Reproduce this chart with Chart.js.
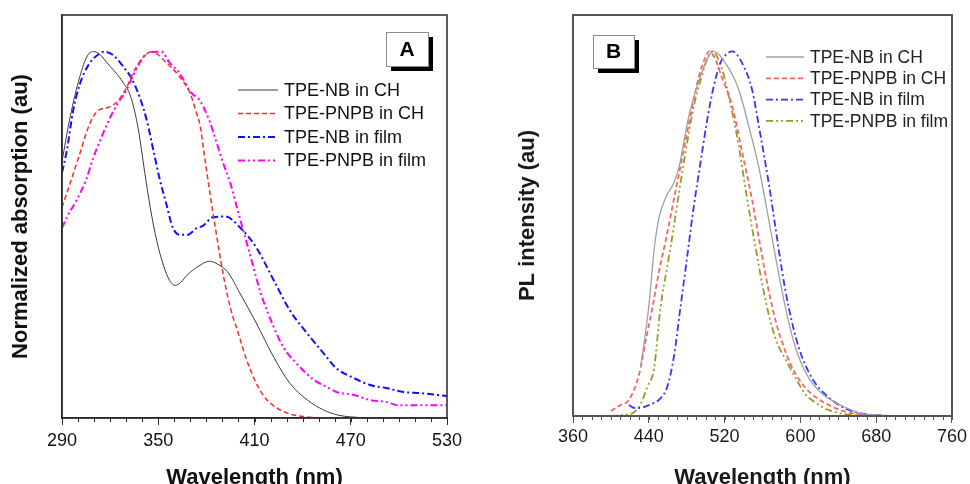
<!DOCTYPE html>
<html>
<head>
<meta charset="utf-8">
<script src="https://cdn.jsdelivr.net/npm/chart.js@4"></script>
<style>
html, body { margin: 0; padding: 0; background: #fff; overflow: hidden; }
#wrap { position: relative; width: 970px; height: 484px; }
canvas { position: absolute; top: 0; }
#chartA { left: 0; }
#chartB { left: 485px; }
</style>
</head>
<body>
<div id="wrap">
  <canvas id="chartA" width="485" height="484"></canvas>
  <canvas id="chartB" width="485" height="484"></canvas>
</div>
<script>
// ---- panel A: absorption ----
var absTicks = [290, 350, 410, 470, 530];
var seriesLabels = ['TPE-NB in CH', 'TPE-PNPB in CH', 'TPE-NB in film', 'TPE-PNPB in film'];

var absNbChNm  = [290, 295, 301, 306, 310, 320, 329, 333, 337.5, 341.6, 345, 349, 353, 357, 360.5, 364, 368, 376, 382, 387, 393, 401, 411, 422, 432, 443, 453, 462, 470, 490, 530];
var absNbChVal = [0.70, 0.82, 0.93, 0.99, 1.0, 0.96, 0.91, 0.875, 0.79, 0.67, 0.575, 0.485, 0.42, 0.376, 0.362, 0.37, 0.39, 0.417, 0.428, 0.42, 0.40, 0.34, 0.26, 0.166, 0.095, 0.049, 0.022, 0.008, 0.003, 0, 0];

var absPnpbChNm  = [290, 295, 301, 307, 311.5, 320, 325, 330, 336, 343, 346, 355, 363.5, 370, 374, 376, 379, 382, 385, 388, 391, 395, 400, 405, 410, 415, 420, 430, 443, 455, 530];
var absPnpbChVal = [0.575, 0.64, 0.72, 0.80, 0.835, 0.85, 0.866, 0.90, 0.956, 0.995, 1.0, 0.97, 0.93, 0.885, 0.83, 0.80, 0.71, 0.62, 0.535, 0.455, 0.38, 0.30, 0.23, 0.16, 0.105, 0.065, 0.04, 0.014, 0.003, 0, 0];

var absNbFilmNm  = [290, 293, 297, 301, 307, 313.5, 316, 322, 328, 333, 338.5, 343, 347, 351, 355, 359, 363.5, 368, 374, 378, 384, 392, 401, 411, 422, 432, 443, 453, 461, 472, 482, 492, 503, 513, 530];
var absNbFilmVal = [0.67, 0.73, 0.84, 0.91, 0.967, 0.995, 1.0, 0.99, 0.96, 0.93, 0.875, 0.81, 0.73, 0.65, 0.585, 0.52, 0.50, 0.50, 0.518, 0.525, 0.548, 0.55, 0.52, 0.466, 0.376, 0.294, 0.23, 0.177, 0.136, 0.109, 0.09, 0.082, 0.071, 0.068, 0.06];

var absPnpbFilmNm  = [290, 293, 299, 305, 309.5, 314.5, 320, 325, 330, 336, 343, 349, 352, 357, 363.5, 370, 376, 382, 386, 390.5, 395, 399, 403, 407, 411.5, 415.5, 422, 428, 436, 447, 455, 461, 472, 482, 492, 499, 513, 530];
var absPnpbFilmVal = [0.518, 0.548, 0.594, 0.65, 0.71, 0.765, 0.82, 0.86, 0.894, 0.95, 0.995, 1.0, 1.0, 0.97, 0.94, 0.89, 0.866, 0.81, 0.757, 0.695, 0.64, 0.575, 0.512, 0.45, 0.376, 0.32, 0.248, 0.193, 0.15, 0.104, 0.085, 0.071, 0.063, 0.049, 0.044, 0.035, 0.035, 0.035];

// ---- panel B: photoluminescence ----
var plTicks = [360, 440, 520, 600, 680, 760];

var plNbChNm  = [431.5, 440, 446, 451, 458, 466.5, 472, 482, 493, 503, 508.5, 521, 535, 545, 556, 566, 573, 584, 594.5, 608, 622, 635, 647, 664, 682, 700];
var plNbChVal = [0.135, 0.30, 0.465, 0.547, 0.60, 0.64, 0.684, 0.82, 0.92, 0.986, 1.0, 0.968, 0.895, 0.80, 0.684, 0.547, 0.447, 0.30, 0.19, 0.108, 0.063, 0.04, 0.024, 0.007, 0.002, 0];

var plPnpbChNm  = [400, 410, 419, 430, 437, 444, 451, 458, 465, 472, 479, 486, 493, 500, 503.5, 510, 517, 528, 538, 549, 559, 566, 574, 581, 590, 600, 612, 630, 650, 680];
var plPnpbChVal = [0.014, 0.03, 0.044, 0.117, 0.21, 0.30, 0.40, 0.483, 0.575, 0.666, 0.758, 0.85, 0.932, 0.986, 1.0, 0.98, 0.93, 0.85, 0.73, 0.593, 0.447, 0.35, 0.26, 0.20, 0.14, 0.095, 0.06, 0.03, 0.01, 0];

var plNbFilmNm  = [419, 425, 430, 440, 452.5, 459.5, 466.5, 473.5, 480.5, 487.5, 494.5, 501.5, 508.5, 515.5, 521, 528, 538.5, 549, 557.5, 566.5, 573.5, 580.5, 587.5, 598, 612, 629, 647, 664, 682, 700];
var plNbFilmVal = [0.03, 0.022, 0.022, 0.03, 0.049, 0.08, 0.163, 0.30, 0.437, 0.575, 0.694, 0.81, 0.904, 0.968, 0.99, 1.0, 0.968, 0.895, 0.776, 0.64, 0.52, 0.40, 0.30, 0.19, 0.105, 0.053, 0.021, 0.007, 0.002, 0];

var plPnpbFilmNm  = [400, 412, 423, 430, 438.5, 445.5, 452.5, 459.5, 466.5, 473.5, 480.5, 487.5, 494.5, 501.5, 507, 517.5, 524.5, 535, 543.5, 552.5, 563, 573.5, 587.5, 598, 605, 612, 622, 630, 647, 670];
var plPnpbFilmVal = [0, 0.003, 0.008, 0.026, 0.08, 0.13, 0.30, 0.41, 0.52, 0.64, 0.75, 0.85, 0.92, 0.978, 1.0, 0.95, 0.876, 0.74, 0.60, 0.465, 0.32, 0.215, 0.14, 0.09, 0.06, 0.044, 0.026, 0.016, 0.005, 0];

Chart.defaults.font.family = "'Liberation Sans', Arial, sans-serif";
Chart.defaults.animation = false;

function pts(xs, ys) {
    return xs.map(function(x, i) { return {x: x, y: ys[i]}; });
}

function series(label, xs, ys, color, width, dash) {
    return {
        label: label,
        data: pts(xs, ys),
        borderColor: color,
        backgroundColor: 'transparent',
        borderWidth: width,
        borderDash: dash,
        pointRadius: 0,
        fill: false,
        cubicInterpolationMode: 'monotone'
    };
}

// frame, minor ticks, panel letter and legend
var deco = {
    id: 'deco',
    afterDraw: function(chart, args, o) {
        var ctx = chart.ctx, ca = chart.chartArea, xs = chart.scales.x;
        ctx.save();
        ctx.strokeStyle = o.frameColor;
        ctx.lineWidth = 1;
        for (var v = xs.min; v <= xs.max + 0.01; v += o.minorStep) {
            var px = Math.round(xs.getPixelForValue(v)) + 0.5;
            ctx.beginPath();
            ctx.moveTo(px, ca.bottom);
            ctx.lineTo(px, ca.bottom + o.minorLen);
            ctx.stroke();
        }
        ctx.lineWidth = o.frameWidth;
        ctx.strokeRect(ca.left, ca.top, ca.right - ca.left, ca.bottom - ca.top);

        var b = o.badge;
        ctx.fillStyle = '#000';
        ctx.fillRect(b.x + 5, b.y + 5, b.w, b.h);
        ctx.fillStyle = '#fff';
        ctx.fillRect(b.x, b.y, b.w, b.h);
        ctx.strokeStyle = '#8a8a8a';
        ctx.lineWidth = 1;
        ctx.strokeRect(b.x + 0.5, b.y + 0.5, b.w, b.h);
        ctx.fillStyle = '#000';
        ctx.font = "bold 21px 'Liberation Sans', Arial, sans-serif";
        ctx.textAlign = 'center';
        ctx.textBaseline = 'middle';
        ctx.fillText(b.text, b.x + b.w / 2, b.y + b.h / 2 + 1);

        var L = o.legend;
        ctx.font = L.font;
        ctx.textAlign = 'left';
        chart.data.datasets.forEach(function(ds, i) {
            var y = L.y0 + i * L.dy;
            ctx.strokeStyle = ds.borderColor;
            ctx.lineWidth = ds.borderWidth;
            ctx.setLineDash(ds.borderDash || []);
            ctx.beginPath();
            ctx.moveTo(L.x1, y);
            ctx.lineTo(L.x2, y);
            ctx.stroke();
            ctx.setLineDash([]);
            ctx.fillStyle = L.color;
            ctx.fillText(ds.label, L.tx, y + 1);
        });
        ctx.restore();
    }
};

function makeChart(id, cfg) {
    return new Chart(document.getElementById(id), {
        type: 'line',
        data: { datasets: cfg.datasets },
        options: {
            responsive: false,
            layout: { padding: cfg.padding },
            plugins: {
                legend: { display: false },
                tooltip: { enabled: false },
                deco: cfg.deco
            },
            scales: {
                x: {
                    type: 'linear',
                    min: cfg.ticks[0],
                    max: cfg.ticks[cfg.ticks.length - 1],
                    afterBuildTicks: function(s) {
                        s.ticks = cfg.ticks.map(function(v) { return {value: v}; });
                    },
                    afterFit: function(s) { s.height = cfg.xHeight; },
                    grid: { drawOnChartArea: false, tickLength: 7, tickColor: cfg.axisColor, tickWidth: 1 },
                    border: { color: cfg.axisColor, width: 1.5 },
                    ticks: { color: cfg.textColor, font: { size: 18 }, padding: cfg.tickPad, maxRotation: 0 },
                    title: {
                        display: true,
                        text: 'Wavelength (nm)',
                        color: cfg.textColor,
                        font: { size: 22, weight: 'bold' },
                        padding: { top: 0, bottom: -7 }
                    }
                },
                y: {
                    min: 0,
                    max: 1.1,
                    afterFit: function(s) { s.width = cfg.yWidth; },
                    grid: { display: false },
                    border: { color: cfg.axisColor, width: 1.5 },
                    ticks: { display: false },
                    title: {
                        display: true,
                        text: cfg.yTitle,
                        color: cfg.textColor,
                        font: { size: 22, weight: 'bold' },
                        padding: { top: cfg.yTitlePad, bottom: 0 }
                    }
                }
            }
        },
        plugins: [deco]
    });
}

makeChart('chartA', {
    ticks: absTicks,
    padding: { top: 15, right: 38, left: 0, bottom: 0 },
    xHeight: 66,
    yWidth: 62,
    yTitlePad: 8,
    tickPad: 5,
    axisColor: '#2a2a2a',
    textColor: '#111',
    yTitle: 'Normalized absorption (au)',
    datasets: [
        series(seriesLabels[0], absNbChNm, absNbChVal, '#3a3a3a', 1, []),
        series(seriesLabels[1], absPnpbChNm, absPnpbChVal, '#ff2a2a', 1.5, [5, 3]),
        series(seriesLabels[2], absNbFilmNm, absNbFilmVal, '#1010ff', 2, [7, 3, 2, 3]),
        series(seriesLabels[3], absPnpbFilmNm, absPnpbFilmVal, '#ff00ff', 2, [7, 3, 2, 3, 2, 3])
    ],
    deco: {
        frameColor: '#2a2a2a', frameWidth: 1.5, minorStep: 10, minorLen: 4,
        badge: { x: 386, y: 32, w: 42, h: 34, text: 'A' },
        legend: { x1: 238, x2: 278, tx: 284, y0: 90, dy: 23.5, color: '#111', font: "18px 'Liberation Sans', Arial, sans-serif" }
    }
});

makeChart('chartB', {
    ticks: plTicks,
    padding: { top: 15, right: 16, left: 0, bottom: 0 },
    xHeight: 68,
    yWidth: 88,
    yTitlePad: 30,
    tickPad: 3,
    axisColor: '#555',
    textColor: '#1a1a1a',
    yTitle: 'PL intensity (au)',
    datasets: [
        series(seriesLabels[0], plNbChNm, plNbChVal, '#a0a0a0', 1.3, []),
        series(seriesLabels[1], plPnpbChNm, plPnpbChVal, '#ff6060', 1.8, [5, 3]),
        series(seriesLabels[2], plNbFilmNm, plNbFilmVal, '#3535ff', 1.8, [7, 3, 2, 3]),
        series(seriesLabels[3], plPnpbFilmNm, plPnpbFilmVal, '#9a9a25', 1.8, [7, 3, 2, 3, 2, 3])
    ],
    deco: {
        frameColor: '#555', frameWidth: 2, minorStep: 10, minorLen: 4,
        badge: { x: 108, y: 35, w: 41, h: 33, text: 'B' },
        legend: { x1: 281, x2: 319, tx: 325, y0: 57, dy: 21.3, color: '#222', font: "17.5px 'Liberation Sans', Arial, sans-serif" }
    }
});
</script>
</body>
</html>
